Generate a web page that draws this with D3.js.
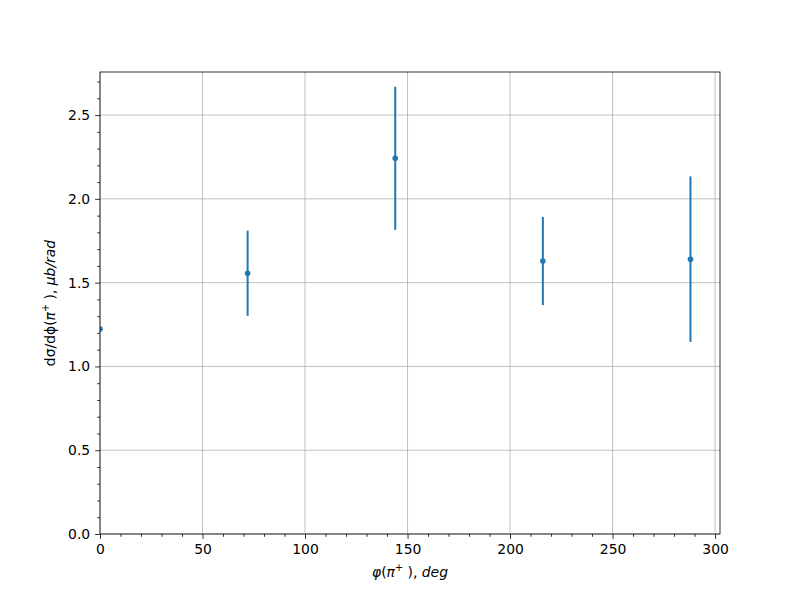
<!DOCTYPE html>
<html>
<head>
<meta charset="utf-8">
<script src="https://cdn.jsdelivr.net/npm/d3@7"></script>
<style>
  body { margin: 0; background: #fff; }
  svg { display: block; }
  text { font-family: "DejaVu Sans", sans-serif; fill: #000; }
</style>
</head>
<body>
<svg id="chart" width="800" height="600"></svg>
<script>
// ---- data ----
const phiDeg = [0, 72, 144, 216, 288];
const dsigma = [1.223, 1.556, 2.242, 1.629, 1.640];
const dsigmaErr = [0, 0.254, 0.427, 0.263, 0.494];
const xTicks = [0, 50, 100, 150, 200, 250, 300];
const yTicks = [0.0, 0.5, 1.0, 1.5, 2.0, 2.5];

const W = 800, H = 600;
const m = { left: 100, right: 80, top: 72, bottom: 66 };
const pw = W - m.left - m.right, ph = H - m.top - m.bottom;
const color = "#1f77b4";
const fs = 13.9;

const svg = d3.select("#chart");
svg.append("rect").attr("width", W).attr("height", H).attr("fill", "#fff");

const x = d3.scaleLinear().domain([0, 302.4]).range([0, pw]);
const y = d3.scaleLinear().domain([0, 2.757]).range([ph, 0]);

const g = svg.append("g").attr("transform", `translate(${m.left},${m.top})`);

// grid
g.append("g").selectAll("line").data(xTicks).join("line")
  .attr("x1", d => x(d)).attr("x2", d => x(d)).attr("y1", 0).attr("y2", ph)
  .attr("stroke", "#b0b0b0").attr("stroke-width", 0.8);
g.append("g").selectAll("line").data(yTicks).join("line")
  .attr("y1", d => y(d)).attr("y2", d => y(d)).attr("x1", 0).attr("x2", pw)
  .attr("stroke", "#b0b0b0").attr("stroke-width", 0.8);

// clip
svg.append("defs").append("clipPath").attr("id", "clip")
  .append("rect").attr("width", pw).attr("height", ph);
const plot = g.append("g").attr("clip-path", "url(#clip)");

const pts = phiDeg.map((v, i) => ({ x: v, y: dsigma[i], e: dsigmaErr[i] }));
plot.selectAll("line.err").data(pts.filter(d => d.e > 0)).join("line")
  .attr("class", "err")
  .attr("x1", d => x(d.x)).attr("x2", d => x(d.x))
  .attr("y1", d => y(d.y - d.e)).attr("y2", d => y(d.y + d.e))
  .attr("stroke", color).attr("stroke-width", 2);
plot.selectAll("circle").data(pts).join("circle")
  .attr("cx", d => x(d.x)).attr("cy", d => y(d.y)).attr("r", 2.8)
  .attr("fill", color);

// axes
const xMinor = d3.range(0, 303, 10).filter(v => v % 50 !== 0);
const yMinor = d3.range(0, 28).map(v => v / 10).filter(v => Math.round(v * 10) % 5 !== 0);

const xAxis = g.append("g").attr("transform", `translate(0,${ph})`)
  .call(d3.axisBottom(x).tickValues(xTicks).tickFormat(d3.format("d")).tickSizeInner(4.9).tickSizeOuter(0).tickPadding(4.9));
const xAxisMinor = g.append("g").attr("transform", `translate(0,${ph})`)
  .call(d3.axisBottom(x).tickValues(xMinor).tickFormat("").tickSizeInner(2.8).tickSizeOuter(0));
const yAxis = g.append("g")
  .call(d3.axisLeft(y).tickValues(yTicks).tickFormat(d3.format(".1f")).tickSizeInner(4.9).tickSizeOuter(0).tickPadding(4.9));
const yAxisMinor = g.append("g")
  .call(d3.axisLeft(y).tickValues(yMinor).tickFormat("").tickSizeInner(2.8).tickSizeOuter(0));

[xAxis, xAxisMinor, yAxis, yAxisMinor].forEach(a => {
  a.select(".domain").remove();
  a.selectAll(".tick line").attr("stroke", "#000").attr("stroke-width", 0.8);
  a.selectAll(".tick text").attr("font-size", fs).attr("font-family", "DejaVu Sans").attr("fill", "#000");
});

// frame
g.append("rect").attr("width", pw).attr("height", ph)
  .attr("fill", "none").attr("stroke", "#000").attr("stroke-width", 0.8);

// x label: φ(π+), deg
const xl = svg.append("text").attr("x", m.left + pw / 2).attr("y", 577)
  .attr("text-anchor", "middle").attr("font-size", fs);
xl.append("tspan").attr("font-style", "italic").text("φ");
xl.append("tspan").text("(");
xl.append("tspan").attr("font-style", "italic").text("π");
xl.append("tspan").attr("font-size", fs * 0.7).attr("dy", -6).text("+");
xl.append("tspan").attr("dy", 6).text(" ), ");
xl.append("tspan").attr("font-style", "italic").text("deg");

// y label: dσ/dϕ(π+), μb/rad
const yl = svg.append("text")
  .attr("transform", `translate(55,${m.top + ph / 2}) rotate(-90)`)
  .attr("text-anchor", "middle").attr("font-size", fs);
yl.append("tspan").text("dσ/dϕ(");
yl.append("tspan").attr("font-style", "italic").text("π");
yl.append("tspan").attr("font-size", fs * 0.7).attr("dy", -6).text("+");
yl.append("tspan").attr("dy", 6).text(" ), ");
yl.append("tspan").attr("font-style", "italic").text("μb/rad");
</script>
</body>
</html>
